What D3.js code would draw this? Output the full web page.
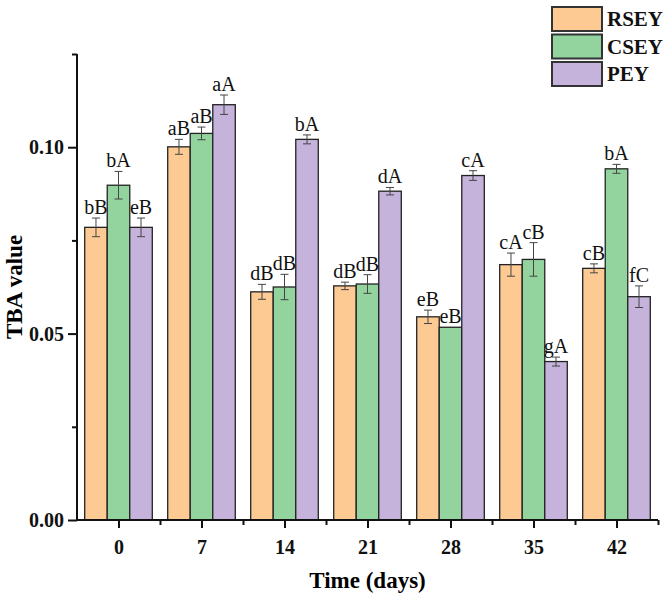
<!DOCTYPE html>
<html><head><meta charset="utf-8">
<script src="https://cdn.jsdelivr.net/npm/d3@7/dist/d3.min.js"></script>
<style>body{margin:0;background:#fff}svg{display:block}</style>
</head><body>
<svg id="c" width="666" height="595"></svg>
<script>
const days = [0, 7, 14, 21, 28, 35, 42];
const seriesNames = ["RSEY", "CSEY", "PEY"];
const RSEY = [0.0785, 0.1001, 0.0612, 0.0628, 0.0545, 0.0685, 0.0675];
const CSEY = [0.0898, 0.1037, 0.0625, 0.0633, 0.0517, 0.0699, 0.0942];
const PEY  = [0.0785, 0.1114, 0.1021, 0.0882, 0.0924, 0.0425, 0.0599];
const RSEYerr = [0.0025, 0.0020, 0.0020, 0.0010, 0.0018, 0.0031, 0.0012];
const CSEYerr = [0.0037, 0.0017, 0.0034, 0.0025, 0.0000, 0.0045, 0.0012];
const PEYerr  = [0.0025, 0.0026, 0.0012, 0.0010, 0.0013, 0.0012, 0.0029];
const RSEYlab = ["bB", "aB", "dB", "dB", "eB", "cA", "cB"];
const CSEYlab = ["bA", "aB", "dB", "dB", "eB", "cB", "bA"];
const PEYlab  = ["eB", "aA", "bA", "dA", "cA", "gA", "fC"];
const yTicks = [0, 0.05, 0.10];
const yMinor = [0.025, 0.075, 0.125];
const xMinor = [3.5, 10.5, 17.5, 24.5, 31.5, 38.5, 45.5];

const colors = ["#FDCA94", "#93D49E", "#C5B3DC"];
const values = [RSEY, CSEY, PEY], errs = [RSEYerr, CSEYerr, PEYerr], labs = [RSEYlab, CSEYlab, PEYlab];

const svg = d3.select("#c");
const x = d3.scaleLinear().domain([-3.5, 45.5]).range([77, 658]);
const y = d3.scaleLinear().domain([0, 0.125]).range([520, 54]);
const barW = 1.9; // days

const serif = "'Liberation Serif','Times New Roman',serif";

// bars
const data = [];
values.forEach((vals, s) => vals.forEach((v, i) => data.push({s, i, v, e: errs[s][i], lab: labs[s][i], cx: days[i] + (s - 1) * barW})));

svg.append("g").selectAll("rect").data(data).join("rect")
  .attr("x", d => x(d.cx - barW / 2))
  .attr("y", d => y(d.v))
  .attr("width", d => x(d.cx + barW / 2) - x(d.cx - barW / 2))
  .attr("height", d => y(0) - y(d.v))
  .attr("fill", d => colors[d.s])
  .attr("stroke", "#222").attr("stroke-width", 1.3);

// error bars
const eg = svg.append("g").attr("stroke", "#444").attr("stroke-width", 1);
data.filter(d => d.e > 0).forEach(d => {
  const cx = x(d.cx);
  eg.append("line").attr("x1", cx).attr("x2", cx).attr("y1", y(d.v + d.e)).attr("y2", y(d.v - d.e));
  eg.append("line").attr("x1", cx - 4).attr("x2", cx + 4).attr("y1", y(d.v + d.e)).attr("y2", y(d.v + d.e));
  eg.append("line").attr("x1", cx - 4).attr("x2", cx + 4).attr("y1", y(d.v - d.e)).attr("y2", y(d.v - d.e));
});

// labels
svg.append("g").selectAll("text").data(data).join("text")
  .attr("x", d => x(d.cx))
  .attr("y", d => y(d.v + d.e) - 4)
  .attr("text-anchor", "middle")
  .attr("font-family", serif).attr("font-size", 20)
  .attr("fill", "#111")
  .text(d => d.lab);

// axes
const yAxis = svg.append("g").attr("transform", `translate(${x(-3.5)},0)`)
  .call(d3.axisLeft(y).tickValues(yTicks).tickFormat(d3.format(".2f")).tickSize(9).tickPadding(4));
svg.append("g").attr("transform", `translate(${x(-3.5)},0)`)
  .call(d3.axisLeft(y).tickValues(yMinor).tickFormat("").tickSize(5))
  .select(".domain").remove();
const xAxis = svg.append("g").attr("transform", `translate(0,${y(0)})`)
  .call(d3.axisBottom(x).tickValues(days).tickFormat(d3.format("d")).tickSize(8).tickPadding(12));
svg.append("g").attr("transform", `translate(0,${y(0)})`)
  .call(d3.axisBottom(x).tickValues(xMinor).tickFormat("").tickSize(5))
  .select(".domain").remove();

svg.selectAll(".domain").attr("stroke", "#111").attr("stroke-width", 2);
svg.selectAll(".tick line").attr("stroke", "#111").attr("stroke-width", 2);
svg.selectAll(".tick text").attr("font-family", serif).attr("font-weight", "bold").attr("font-size", 20).attr("fill", "#111");
yAxis.select(".domain").attr("d", `M-0,${y(0.125)}H0V${y(0)}H-0`);
xAxis.select(".domain").attr("d", `M${x(-3.5)},0H${x(45.5)}`);

// titles
svg.append("text").attr("x", (x(-3.5) + x(45.5)) / 2).attr("y", 588)
  .attr("text-anchor", "middle").attr("font-family", serif).attr("font-weight", "bold").attr("font-size", 23)
  .text("Time (days)");
svg.append("text").attr("transform", `translate(22,${(y(0) + y(0.125)) / 2}) rotate(-90)`)
  .attr("text-anchor", "middle").attr("font-family", serif).attr("font-weight", "bold").attr("font-size", 23)
  .text("TBA value");

// legend
const lg = svg.append("g");
seriesNames.forEach((n, i) => {
  const yy = 7 + i * 27.5;
  lg.append("rect").attr("x", 552).attr("y", yy).attr("width", 50).attr("height", 24)
    .attr("fill", colors[i]).attr("stroke", "#333").attr("stroke-width", 2);
  lg.append("text").attr("x", 607).attr("y", yy + 19)
    .attr("font-family", serif).attr("font-weight", "bold").attr("font-size", 21).attr("fill", "#111")
    .text(n);
});
</script>
</body></html>
